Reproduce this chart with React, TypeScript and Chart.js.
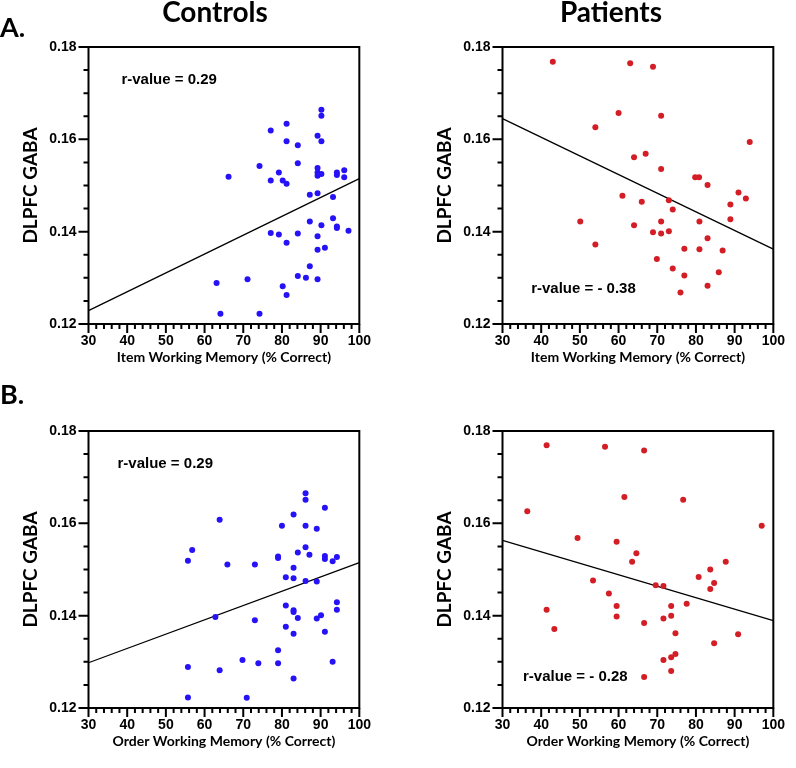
import React, { useEffect, useRef } from "react";
import { Chart, registerables } from "chart.js";

Chart.register(...registerables);

type Pt = [number, number];

// ---------- data ----------
const controlsItem: Pt[] = [
  [90.2, 0.1664], [90.2, 0.1651], [81.2, 0.1634], [77.1, 0.1619], [81.2, 0.1596], [84.1, 0.1587], [89.2, 0.1608], [90.2, 0.1596],
  [74.2, 0.1542], [84.1, 0.1548], [66.2, 0.1519], [79.2, 0.1528], [77.1, 0.1511], [80.2, 0.1511], [81.2, 0.1504],
  [89.2, 0.1538], [89.2, 0.1528], [89.2, 0.1521], [90.2, 0.1525], [94.2, 0.1528], [94.2, 0.1523], [96.1, 0.1533], [96.1, 0.1518],
  [87.2, 0.148], [89.2, 0.1483], [93.2, 0.1475],
  [77.1, 0.1397], [79.2, 0.1394], [84.1, 0.1396], [81.2, 0.1376], [87.2, 0.1422], [90.2, 0.1414], [93.2, 0.1429], [94.2, 0.1411],
  [94.2, 0.1408], [97.2, 0.1402], [89.2, 0.139], [89.2, 0.1361], [91.1, 0.1365],
  [87.2, 0.1325], [84.1, 0.1304], [86.2, 0.13], [89.2, 0.1297], [80.2, 0.1282], [81.2, 0.1263], [74.2, 0.1222],
  [63.1, 0.1289], [64.1, 0.1222], [71.1, 0.1297],
];

const patientsItem: Pt[] = [
  [43.0, 0.1768], [63.0, 0.1765], [68.9, 0.1757], [60.0, 0.1657], [71.0, 0.1651], [54.0, 0.1626], [64.0, 0.1561], [67.0, 0.1569],
  [71.0, 0.1536], [79.8, 0.1518], [80.8, 0.1518], [83.0, 0.1501], [61.0, 0.1478], [66.0, 0.1465], [73.0, 0.1468], [74.0, 0.1448],
  [88.9, 0.1459], [88.9, 0.1427], [50.1, 0.1422], [64.0, 0.1414], [71.0, 0.1422], [80.9, 0.1422], [68.9, 0.1399], [71.0, 0.1396],
  [73.0, 0.1401], [83.0, 0.1386], [54.0, 0.1372], [77.0, 0.1363], [80.9, 0.1362], [86.9, 0.1359], [69.9, 0.1341], [74.0, 0.132],
  [77.0, 0.1305], [85.9, 0.1312], [83.0, 0.1283], [76.0, 0.1268], [91.0, 0.1485], [92.9, 0.1472], [93.9, 0.1594],
];

const controlsOrder: Pt[] = [
  [86.1, 0.1665], [86.1, 0.1651], [91.1, 0.1634], [83.0, 0.1619], [63.9, 0.1608], [80.0, 0.1595], [86.1, 0.1595], [89.0, 0.1588],
  [56.8, 0.1542], [55.7, 0.1519], [65.9, 0.1511], [73.0, 0.1511], [79.0, 0.1528], [79.0, 0.1525], [83.0, 0.1504], [84.1, 0.1537],
  [86.1, 0.1548], [87.1, 0.1532], [91.1, 0.1529], [91.1, 0.1523], [93.1, 0.1518], [81.0, 0.1483], [83.0, 0.1481], [86.1, 0.1475],
  [89.0, 0.1474], [62.8, 0.1397], [73.0, 0.139], [81.0, 0.1422], [83.0, 0.1412], [83.0, 0.1408], [84.1, 0.1395], [81.0, 0.1376],
  [83.0, 0.1361], [89.0, 0.1394], [90.1, 0.1401], [91.1, 0.1365], [79.0, 0.1325], [79.0, 0.1297], [73.9, 0.1297], [69.8, 0.1304],
  [63.9, 0.1282], [55.7, 0.1289], [83.0, 0.1264], [55.7, 0.1223], [70.9, 0.1222], [93.1, 0.13], [94.2, 0.1527], [94.2, 0.1429],
  [94.2, 0.1413],
];

const patientsOrder: Pt[] = [
  [41.4, 0.1769], [56.5, 0.1766], [66.6, 0.1758], [61.5, 0.1657], [76.7, 0.1651], [36.4, 0.1626], [49.4, 0.1568], [59.5, 0.156],
  [64.6, 0.1535], [63.5, 0.1517], [53.4, 0.1476], [57.5, 0.1448], [59.5, 0.1421], [59.5, 0.1398], [41.4, 0.1413], [43.4, 0.1371],
  [66.6, 0.1384], [69.6, 0.1466], [71.6, 0.1464], [73.6, 0.1421], [73.6, 0.14], [71.6, 0.1394], [74.7, 0.1362], [77.6, 0.1426],
  [80.7, 0.1484], [83.7, 0.15], [84.7, 0.1471], [83.7, 0.1458], [87.7, 0.1517], [84.7, 0.134], [71.6, 0.1304], [73.6, 0.131],
  [74.7, 0.1317], [73.6, 0.128], [66.6, 0.1267], [90.9, 0.136], [97.0, 0.1595],
];

// regression line end points
const fitControlsItem: Pt[] = [[30, 0.1229], [100, 0.1515]];
const fitPatientsItem: Pt[] = [[30, 0.1645], [100, 0.1362]];
const fitControlsOrder: Pt[] = [[30, 0.1298], [100, 0.1515]];
const fitPatientsOrder: Pt[] = [[30, 0.1563], [100, 0.1389]];

// axes
const xTickValues = [30, 40, 50, 60, 70, 80, 90, 100];
const yTickValues = [0.12, 0.14, 0.16, 0.18];
const xMinorStep = 2;
const yMinorStep = 0.005;

// texts
const groupTitles = ["Controls", "Patients"];
const rowLabels = ["A.", "B."];
const yTitle = "DLPFC GABA";
const xTitles = [
  "Item Working Memory (% Correct)",
  "Item Working Memory (% Correct)",
  "Order Working Memory (% Correct)",
  "Order Working Memory (% Correct)",
];
const rLabels = ["r-value = 0.29", "r-value = - 0.38", "r-value = 0.29", "r-value = - 0.28"];
const rLabelAt: Pt[] = [[38.5, 0.1728], [37.4, 0.1276], [37.5, 0.1728], [35.3, 0.1267]];

const BLUE = "rgb(38, 18, 246)";
const RED = "rgb(212, 30, 38)";

const panels = [
  { pts: controlsItem, fit: fitControlsItem, color: BLUE },
  { pts: patientsItem, fit: fitPatientsItem, color: RED },
  { pts: controlsOrder, fit: fitControlsOrder, color: BLUE },
  { pts: patientsOrder, fit: fitPatientsOrder, color: RED },
];

// ---------- layout ----------
const CW = 380;
const CH = 384;
const PAD_TOP = 47;
const PAD_RIGHT = 15;
const YAXIS_W = 88.5;
const XAXIS_H = 60;
const COL_LEFT = [0, 414];
const ROW_TOP = [0, 384];

const TICK_FONT = '"Liberation Sans", Arial, Helvetica, sans-serif';
const TITLE_FONT = 'Lato, "Open Sans", sans-serif';

const frameTicksPlugin = {
  id: "frameTicks",
  afterDraw(chart: any, _args: any, opts: any) {
    const { ctx, chartArea: a, scales } = chart;
    const xs = scales.x;
    const ys = scales.y;
    ctx.save();
    ctx.strokeStyle = "#000";
    ctx.lineWidth = 2;
    ctx.strokeRect(a.left, a.top, a.right - a.left, a.bottom - a.top);
    ctx.beginPath();
    const xMin = xTickValues[0];
    const xMax = xTickValues[xTickValues.length - 1];
    for (let v = xMin; v <= xMax + 1e-9; v += xMinorStep) {
      const px = xs.getPixelForValue(v);
      const major = xTickValues.some((t) => Math.abs(t - v) < 1e-6);
      ctx.moveTo(px, a.bottom);
      ctx.lineTo(px, a.bottom + (major ? 9 : 5));
    }
    const yMin = yTickValues[0];
    const yMax = yTickValues[yTickValues.length - 1];
    const n = Math.round((yMax - yMin) / yMinorStep);
    for (let i = 0; i <= n; i++) {
      const v = yMin + i * yMinorStep;
      const py = ys.getPixelForValue(v);
      const major = yTickValues.some((t) => Math.abs(t - v) < 1e-6);
      ctx.moveTo(a.left, py);
      ctx.lineTo(a.left - (major ? 10 : 5), py);
    }
    ctx.stroke();
    if (opts && opts.text) {
      ctx.font = `bold 15px ${TICK_FONT}`;
      ctx.fillStyle = "#000";
      ctx.textAlign = "left";
      ctx.textBaseline = "middle";
      ctx.fillText(opts.text, xs.getPixelForValue(opts.at[0]), ys.getPixelForValue(opts.at[1]));
    }
    ctx.restore();
  },
};

function Panel({ index }: { index: number }) {
  const ref = useRef<HTMLCanvasElement | null>(null);
  useEffect(() => {
    if (!ref.current) return;
    const p = panels[index];
    const chart = new Chart(ref.current, {
      type: "scatter",
      data: {
        datasets: [
          {
            type: "line",
            data: p.fit.map(([x, y]) => ({ x, y })),
            borderColor: "#000",
            borderWidth: 1.3,
            pointRadius: 0,
            fill: false,
            order: 2,
          } as any,
          {
            type: "scatter",
            data: p.pts.map(([x, y]) => ({ x, y })),
            backgroundColor: p.color,
            borderWidth: 0,
            pointRadius: 3,
            order: 1,
          },
        ],
      },
      options: {
        responsive: false,
        animation: false,
        layout: { padding: { top: PAD_TOP, right: PAD_RIGHT, bottom: 0, left: 0 } },
        plugins: {
          legend: { display: false },
          tooltip: { enabled: false },
          frameTicks: { text: rLabels[index], at: rLabelAt[index] },
        } as any,
        scales: {
          x: {
            type: "linear",
            min: xTickValues[0],
            max: xTickValues[xTickValues.length - 1],
            afterBuildTicks: (s: any) => {
              s.ticks = xTickValues.map((v) => ({ value: v }));
            },
            afterFit: (s: any) => {
              s.height = XAXIS_H;
            },
            grid: { display: false, drawTicks: false },
            border: { display: false },
            ticks: {
              autoSkip: false,
              maxRotation: 0,
              padding: 9,
              color: "#000",
              font: { family: TICK_FONT, size: 14, weight: "bold" },
              callback: (v: any) => String(v),
            },
            title: {
              display: true,
              text: xTitles[index],
              color: "#000",
              font: { family: TITLE_FONT, size: 14, weight: "bold" },
              padding: { top: 0, bottom: 18.2 },
            },
          },
          y: {
            type: "linear",
            min: yTickValues[0],
            max: yTickValues[yTickValues.length - 1],
            afterBuildTicks: (s: any) => {
              s.ticks = yTickValues.map((v) => ({ value: v }));
            },
            afterFit: (s: any) => {
              s.width = YAXIS_W;
            },
            grid: { display: false, drawTicks: false },
            border: { display: false },
            ticks: {
              autoSkip: false,
              padding: 12,
              color: "#000",
              font: { family: TICK_FONT, size: 14, weight: "bold" },
              callback: (v: any) => Number(v).toFixed(2),
            },
            title: {
              display: true,
              text: yTitle,
              color: "#000",
              font: { family: TITLE_FONT, size: 19, weight: "bold" },
              padding: { top: 19.6, bottom: 0 },
            },
          },
        },
      },
      plugins: [frameTicksPlugin],
    } as any);
    return () => chart.destroy();
  }, [index]);

  const col = index % 2;
  const row = Math.floor(index / 2);
  return (
    <canvas
      ref={ref}
      width={CW}
      height={CH}
      style={{ position: "absolute", left: COL_LEFT[col], top: ROW_TOP[row], width: CW, height: CH }}
    />
  );
}

export default function App() {
  const titleStyle: React.CSSProperties = {
    position: "absolute",
    fontFamily: TITLE_FONT,
    fontWeight: 700,
    lineHeight: 1,
    color: "#000",
    whiteSpace: "nowrap",
  };
  return (
    <div
      style={{
        position: "fixed",
        left: 0,
        top: 0,
        width: 796,
        height: 768,
        background: "#fff",
        overflow: "hidden",
      }}
    >
      {[0, 1, 2, 3].map((i) => (
        <Panel key={i} index={i} />
      ))}
      <div style={{ ...titleStyle, fontSize: 28, left: 115, width: 200, top: -3, textAlign: "center" }}>
        {groupTitles[0]}
      </div>
      <div style={{ ...titleStyle, fontSize: 28, left: 511, width: 200, top: -3, textAlign: "center" }}>
        {groupTitles[1]}
      </div>
      <div style={{ ...titleStyle, fontSize: 27, left: 0, top: 13 }}>{rowLabels[0]}</div>
      <div style={{ ...titleStyle, fontSize: 27, left: 0, top: 380 }}>{rowLabels[1]}</div>
    </div>
  );
}
